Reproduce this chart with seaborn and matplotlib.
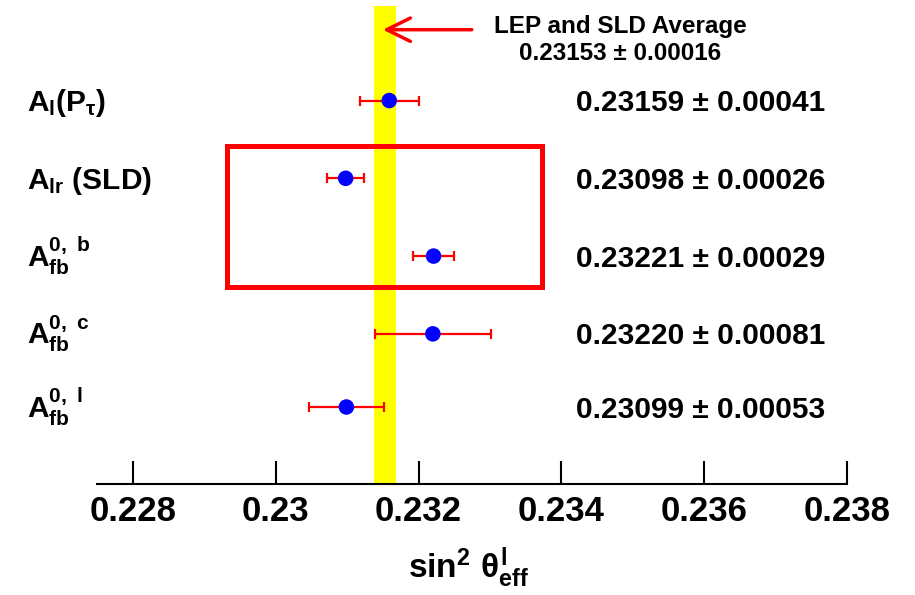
import numpy as np
import pandas as pd
import matplotlib
matplotlib.use("Agg")
import matplotlib.pyplot as plt
import matplotlib.patches as patches
import matplotlib.transforms as mtransforms
import seaborn as sns

# ---- data ----
labels = [r"$\mathrm{A_l(P_\tau)}$",
          r"$\mathrm{A_{lr}}$ (SLD)",
          r"$\mathrm{A_{fb}^{0,\ b}}$",
          r"$\mathrm{A_{fb}^{0,\ c}}$",
          r"$\mathrm{A_{fb}^{0,\ l}}$"]
values = [0.23159, 0.23098, 0.23221, 0.23220, 0.23099]
errors = [0.00041, 0.00026, 0.00029, 0.00081, 0.00053]
row_pos = [4.98, 3.97, 2.96, 1.95, 1.0]
avg_value = 0.23153
avg_error = 0.00016
xticks = [0.228, 0.230, 0.232, 0.234, 0.236, 0.238]
xtick_labels = ["0.228", "0.23", "0.232", "0.234", "0.236", "0.238"]

sns.set_style("white")
plt.rcParams["font.family"] = ["Liberation Sans", "DejaVu Sans"]
plt.rcParams["font.weight"] = "bold"
plt.rcParams["text.color"] = "black"
plt.rcParams["axes.labelcolor"] = "black"
plt.rcParams["xtick.color"] = "black"
plt.rcParams["mathtext.fontset"] = "custom"
plt.rcParams["mathtext.rm"] = "Liberation Sans:bold"
plt.rcParams["mathtext.it"] = "Liberation Sans:bold"
plt.rcParams["mathtext.bf"] = "Liberation Sans:bold"
plt.rcParams["mathtext.sf"] = "Liberation Sans:bold"

df = pd.DataFrame({"value": values, "error": errors, "pos": row_pos})

W, H = 915, 595
fig = plt.figure(figsize=(W / 100, H / 100), dpi=100)
ax = fig.add_axes([97 / W, 1 - 484 / H, (883 - 97) / W, 484 / H])
ax.set_xlim(0.2275, 0.2385)
ax.set_ylim(0, 484 / 77)

# average band
ax.fill_betweenx([0, 6.21], avg_value - avg_error, avg_value + avg_error,
                 color="#ffff00", linewidth=0, zorder=1)

# error bars and points
ax.errorbar(df["value"], df["pos"], xerr=df["error"], fmt="none",
            ecolor="red", elinewidth=1.6, capsize=3.6, capthick=1.6, zorder=3)
sns.scatterplot(data=df, x="value", y="pos", color="blue", s=125,
                edgecolor="none", legend=False, ax=ax, zorder=5)

# highlight rectangle
rect = patches.Rectangle((0.22932, 2.56), 0.233724 - 0.22932, 4.39 - 2.56,
                         fill=False, edgecolor="red", linewidth=3.6, zorder=4)
ax.add_patch(rect)

# arrow to average
ax.annotate("", xy=(0.2315, 5.90), xytext=(0.232745, 5.90),
            arrowprops=dict(arrowstyle="->,head_length=0.85,head_width=0.42",
                            color="red", lw=2.5, mutation_scale=20,
                            shrinkA=0, shrinkB=0), zorder=6)
fig.text(620 / W, 1 - 33 / H, "LEP and SLD Average", ha="center", va="baseline",
         fontsize=17.5, fontweight="bold")
fig.text(620 / W, 1 - 60 / H, f"{avg_value:.5f}" + " \u00b1 " + f"{avg_error:.5f}",
         ha="center", va="baseline", fontsize=17.5, fontweight="bold")

# row labels and values
blend = mtransforms.blended_transform_factory(fig.transFigure, ax.transData)
off = mtransforms.ScaledTranslation(0, -10.5 / 100, fig.dpi_scale_trans)
for lab, v, e, p in zip(labels, df["value"], df["error"], df["pos"]):
    ax.text(27 / W, p, lab, transform=blend + off, ha="left", va="baseline",
            fontsize=21.5, fontweight="bold")
    ax.text(576 / W, p, f"{v:.5f}" + " \u00b1 " + f"{e:.5f}", transform=blend + off,
            ha="left", va="baseline", fontsize=21.5, fontweight="bold")

# axes styling
for s in ["top", "left", "right"]:
    ax.spines[s].set_visible(False)
ax.spines["bottom"].set_bounds(0.2275, 0.238)
ax.spines["bottom"].set_linewidth(1.5)
ax.spines["bottom"].set_color("black")
ax.set_yticks([])
ax.set_xticks(xticks)
ax.set_xticklabels(xtick_labels, fontsize=25, fontweight="bold")
ax.tick_params(axis="x", direction="in", length=16.5, width=1.5, pad=8,
               color="black", bottom=True)
ax.set_xlabel(r"$\mathrm{sin^2}\ \theta^{\mathrm{l}}_{\mathrm{eff}}$", fontsize=24)
ax.xaxis.set_label_coords((468 - 97) / (883 - 97), -(545 - 484) / 484)
ax.set_ylabel("")
ax.patch.set_alpha(0)

fig.savefig("out.png", dpi=100)
